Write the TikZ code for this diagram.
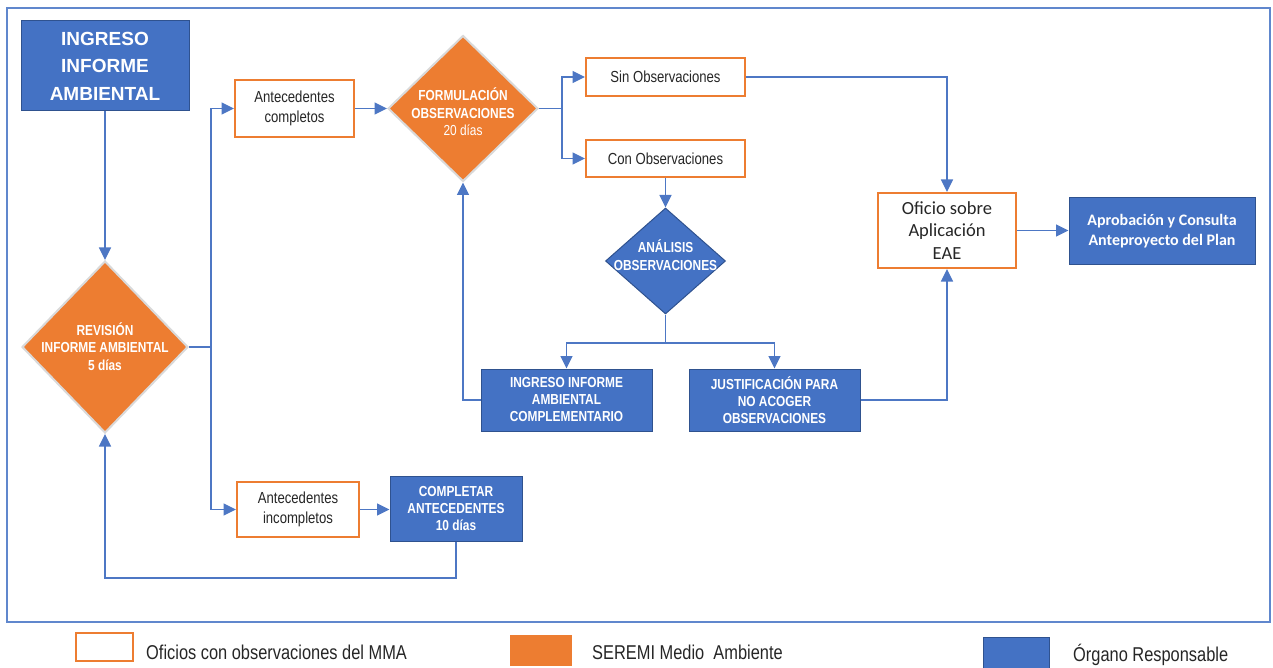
\documentclass[tikz,border=0pt]{standalone}
\usepackage{fontspec}
\setmainfont{Liberation Sans}
\newfontfamily\narrowfont[FakeStretch=0.82]{Liberation Sans}
\newfontfamily\calfont{Carlito}
\usetikzlibrary{shapes.geometric,arrows.meta}

\definecolor{mblue}{HTML}{4472C4}
\definecolor{morange}{HTML}{ED7D31}
\definecolor{conn}{HTML}{4D77C4}
\definecolor{txt}{HTML}{262626}
\definecolor{bblue}{HTML}{2F528F}

\tikzset{
  line/.style={draw=conn, line width=1.3pt},
  arr/.style={line, -{Triangle[length=12.5pt,width=12pt]}},
  ofbox/.style={draw=morange, line width=2pt, fill=white, text=txt, align=center,
    inner sep=0pt, font=\narrowfont\fontsize{16}{19.5}\selectfont},
  bluebox/.style={draw=bblue, line width=1pt, fill=mblue, text=white, align=center,
    inner sep=0pt, font=\narrowfont\bfseries\fontsize{14.5}{17}\selectfont},
  diam/.style={diamond, draw=black!15, line width=2pt, fill=morange, inner sep=0pt},
  dtext/.style={text=white, align=center, inner sep=0pt,
    font=\narrowfont\bfseries\fontsize{14.5}{17.5}\selectfont},
  legtext/.style={anchor=west, text=txt, inner sep=0pt,
    font=\narrowfont\fontsize{20}{24}\selectfont},
}

\begin{document}
\begin{tikzpicture}[x=1pt,y=-1pt]
\useasboundingbox (0,0) rectangle (1273,668);

% outer frame
\draw[draw=mblue!85, line width=1.5pt] (7,8) rectangle (1270,622);

% process nodes
\node[bluebox, font=\bfseries\fontsize{19}{27.5}\selectfont,
      minimum width=168, minimum height=90] (ingreso) at (105,66) {INGRESO\\INFORME\\AMBIENTAL};

\node[diam, minimum width=166, minimum height=172] (rev) at (105,347) {};
\node[dtext] (revt) at (105,346.5) {REVISIÓN\\INFORME AMBIENTAL\\5 días};

\node[ofbox, minimum width=119, minimum height=57] (compl) at (294.5,108.5) {Antecedentes\\completos};
\node[ofbox, minimum width=122, minimum height=55] (incompl) at (298,509.5) {Antecedentes\\incompletos};

\node[bluebox, minimum width=132, minimum height=65] (complet) at (456,508.5) {COMPLETAR\\ANTECEDENTES\\10 días};

\node[diam, minimum width=150, minimum height=146] (form) at (463,108.5) {};
\node[dtext] (formt) at (463,112) {FORMULACIÓN\\OBSERVACIONES\\{\mdseries 20 días}};

\node[ofbox, minimum width=159, minimum height=38] (sin) at (665.5,77) {Sin Observaciones};
\node[ofbox, minimum width=159, minimum height=37] (con) at (665.5,158.5) {Con Observaciones};

\node[diam, fill=mblue, draw=bblue, line width=1pt, minimum width=120, minimum height=106] (anal) at (665.5,261) {};
\node[dtext] (analt) at (665.5,255) {ANÁLISIS\\OBSERVACIONES};

\node[bluebox, minimum width=171, minimum height=62] (ingc) at (566.5,400) {INGRESO INFORME\\AMBIENTAL\\COMPLEMENTARIO};
\node[bluebox, minimum width=171, minimum height=62] (just) at (774.5,400) {JUSTIFICACIÓN PARA\\NO ACOGER\\OBSERVACIONES};

\node[ofbox, font=\calfont\fontsize{18.5}{22.5}\selectfont,
      minimum width=138, minimum height=75] (oficio) at (947,230.5) {Oficio sobre\\Aplicación\\EAE};
\node[bluebox, font=\calfont\bfseries\fontsize{16}{20}\selectfont,
      minimum width=186, minimum height=66] (aprob) at (1162,231) {Aprobación y Consulta\\Anteproyecto del Plan};

% branch points
\coordinate (s1) at (211,347);
\coordinate (s2) at (562,108.5);
\coordinate (s3) at (665.5,343);
\coordinate (lp) at (105,578);

% connectors
\draw[arr] (ingreso.south) -- (rev.north);
\draw[line] (rev.east) -- (s1);
\draw[arr] (s1) |- (compl.west);
\draw[arr] (s1) |- (incompl.west);
\draw[arr] (compl.east) -- (form.west);
\draw[line] (form.east) -- (s2);
\draw[arr] (s2) |- (sin.west);
\draw[arr] (s2) |- (con.west);
\draw[arr] (sin.east) -| (oficio.north);
\draw[arr] (con.south) -- (anal.north);
\draw[line] (anal.south) -- (s3);
\draw[arr] (s3) -| (ingc.north);
\draw[arr] (s3) -| (just.north);
\draw[arr] (ingc.west) -| (form.south);
\draw[arr] (just.east) -| (oficio.south);
\draw[arr] (oficio.east) -- (oficio.east -| aprob.west);
\draw[arr] (incompl.east) -- (incompl.east -| complet.west);
\draw[arr] (complet.south) |- (lp) -- (rev.south);

% legend
\node[draw=morange, line width=2pt, fill=white, minimum width=57, minimum height=28, inner sep=0pt] (lg1) at (104.5,647) {};
\node[legtext] (lg1t) at (146,652) {Oficios con observaciones del MMA};
\node[fill=morange, minimum width=62, minimum height=31, inner sep=0pt] (lg2) at (541,650.5) {};
\node[legtext] (lg2t) at (592,652) {SEREMI Medio\ \ Ambiente};
\node[fill=mblue, draw=bblue, line width=0.8pt, minimum width=66, minimum height=34, inner sep=0pt] (lg3) at (1016,654) {};
\node[legtext] (lg3t) at (1073,655) {Órgano Responsable};
\end{tikzpicture}
\end{document}
